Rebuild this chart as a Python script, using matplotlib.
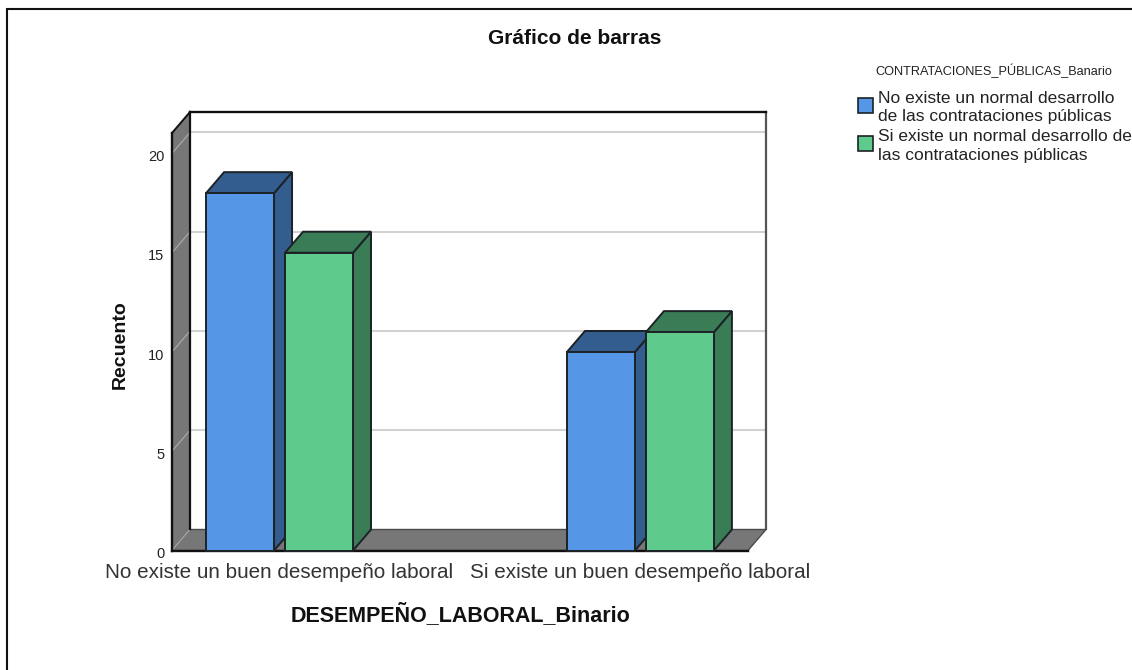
import matplotlib
matplotlib.use("Agg")
import matplotlib.pyplot as plt
from matplotlib.patches import Polygon, FancyBboxPatch

plt.rcParams['font.family'] = ['Liberation Sans', 'DejaVu Sans']

categories = ["No existe un buen desempeño laboral", "Si existe un buen desempeño laboral"]
series_names = ["No existe un normal desarrollo\nde las contrataciones públicas",
                "Si existe un normal desarrollo de\nlas contrataciones públicas"]
no_values = [18, 10]
si_values = [15, 11]
y_ticks = [0, 5, 10, 15, 20]

W, H = 1132, 670
fig = plt.figure(figsize=(W / 100, H / 100), dpi=100)
fig.patch.set_facecolor('white')

# frame of the screenshot
fig.add_artist(plt.Line2D([6.5 / W, 6.5 / W, 1], [0, 1 - 8.5 / H, 1 - 8.5 / H], color='#111111', lw=1.5,
                          solid_joinstyle='miter'))

# front plane of the 3d box, in pixels
left, right, y0, top = 172, 748, 550.5, 133
ax = fig.add_axes([left / W, 1 - y0 / H, (right - left) / W, (y0 - top) / H])
ax.set_xlim(-0.298, 1.298)
ax.set_ylim(0, 21.03)
ax.axis('off')

dx = 18 / 361
dy = 21 / 19.85
xa, xb = ax.get_xlim()
ya, yb = ax.get_ylim()
WALL = '#777777'
EDGE = '#1c2226'


def poly(pts, fc, ec=EDGE, lw=1.4, z=2):
    ax.add_patch(Polygon(pts, closed=True, facecolor=fc, edgecolor=ec, linewidth=lw,
                         zorder=z, clip_on=False, joinstyle='miter'))


# back wall, floor, side wall
poly([(xa + dx, ya + dy), (xb + dx, ya + dy), (xb + dx, yb + dy), (xa + dx, yb + dy)], 'white', ec='none', z=1)
for v in y_ticks[1:]:
    ax.plot([xa + dx, xb + dx], [v + dy, v + dy], color='#d2d2d2', lw=1.5, zorder=1.5, clip_on=False)
ax.plot([xb + dx, xb + dx], [ya + dy, yb + dy], color='#555555', lw=1.6, zorder=1.6, clip_on=False)
ax.plot([xa + dx, xb + dx], [yb + dy, yb + dy], color='#111111', lw=1.7, zorder=1.6, clip_on=False)
poly([(xa, ya), (xb, ya), (xb + dx, ya + dy), (xa + dx, ya + dy)], WALL, ec='#4a4a4a', lw=1.0, z=2)
poly([(xa, ya), (xa + dx, ya + dy), (xa + dx, yb + dy), (xa, yb)], WALL, ec='none', z=2)
for v in y_ticks:
    ax.plot([xa, xa + dx], [v, v + dy], color='#a8a8a8', lw=0.9, zorder=2.5, clip_on=False)
ax.plot([xa + dx, xa + dx], [ya + dy, yb + dy], color='#111111', lw=1.6, zorder=2.6, clip_on=False)
ax.plot([xa, xa + dx], [yb, yb + dy], color='#111111', lw=1.4, zorder=2.6, clip_on=False)
ax.plot([xa, xa], [ya, yb], color='#111111', lw=1.7, zorder=2.6, clip_on=False)
ax.plot([xa, xb], [ya, ya], color='#111111', lw=1.7, zorder=2.6, clip_on=False)

# bars
bar_w = 68 / 361
off = 39.5 / 361
colors = [('#5596E6', '#335C8F'), ('#5ECB8C', '#397C55')]


def bar3d(x, h, front, dark, z):
    l, r = x - bar_w / 2, x + bar_w / 2
    poly([(r, 0), (r + dx, dy), (r + dx, h + dy), (r, h)], dark, z=z)
    poly([(l, h), (r, h), (r + dx, h + dy), (l + dx, h + dy)], dark, z=z)
    poly([(l, 0), (r, 0), (r, h), (l, h)], front, z=z + 0.1)


for i in range(len(categories)):
    bar3d(i - off, no_values[i], colors[0][0], colors[0][1], 3)
    bar3d(i + off, si_values[i], colors[1][0], colors[1][1], 4)

# axis texts
for v in y_ticks:
    fig.text(164.5 / W, 1 - (y0 - v * 19.85 + 3.5) / H, str(v), ha='right', va='center', fontsize=10.5, color='#222222')
for i, c in enumerate(categories):
    ax.text(i, -1.13, c, ha='center', va='center', fontsize=14.85, color='#333333', clip_on=False)

fig.text(575 / W, 1 - 39 / H, "Gráfico de barras", ha='center', va='center', fontsize=15, fontweight='bold', color='#111111')
fig.text(120 / W, 1 - 345 / H, "Recuento", rotation=90, ha='center', va='center', fontsize=14, fontweight='bold', color='#111111')
fig.text(460 / W, 1 - 615 / H, "DESEMPEÑO_LABORAL_Binario", ha='center', va='center', fontsize=15.5, fontweight='bold', color='#111111')

# legend
fig.text(994 / W, 1 - 71 / H, "CONTRATACIONES_PÚBLICAS_Banario", ha='center', va='center', fontsize=9.2, color='#222222')
for k, yc in enumerate([105, 143.5]):
    fig.add_artist(FancyBboxPatch((858 / W, 1 - (yc + 7.5) / H), 15.5 / W, 15 / H, transform=fig.transFigure,
                                  boxstyle='square,pad=0', facecolor=colors[k][0], edgecolor=EDGE, linewidth=1.2))
    fig.text(878 / W, 1 - (yc + 2.5) / H, series_names[k], ha='left', va='center', fontsize=12.5,
             color='#222222', linespacing=1.27)

fig.savefig("out.png", dpi=100)
